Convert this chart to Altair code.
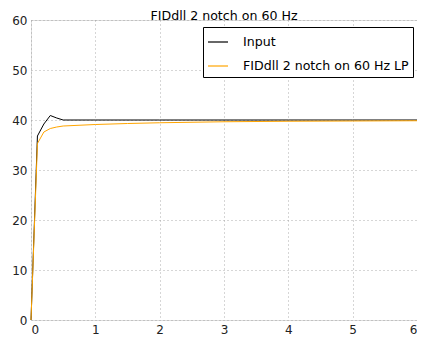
import altair as alt
import pandas as pd

series_names = ["Input", "FIDdll 2 notch on 60 Hz LP"]
x_input = [0.0, 0.1, 0.2, 0.3, 0.4, 0.5, 1.0, 2.0, 3.0, 4.0, 5.0, 6.0, 7.0, 8.0]
y_input = [0.0, 36.8, 39.2, 40.9, 40.4, 40.0, 40.0, 40.0, 40.0, 40.0, 40.0, 40.0, 40.0, 40.0]
x_lp = [0.0, 0.1, 0.2, 0.3, 0.4, 0.5, 1.0, 1.5, 2.0, 3.0, 4.0, 5.0, 6.0, 7.0, 8.0]
y_lp = [0.0, 35.3, 37.6, 38.3, 38.6, 38.8, 39.1, 39.3, 39.45, 39.65, 39.75, 39.8, 39.85, 39.9, 39.9]

rows = []
for i, (xv, yv) in enumerate(zip(x_input, y_input)):
    rows.append({"t": xv, "v": yv, "series": series_names[0], "o": i})
for i, (xv, yv) in enumerate(zip(x_lp, y_lp)):
    rows.append({"t": xv, "v": yv, "series": series_names[1], "o": i})
df = pd.DataFrame(rows)

font = "DejaVu Sans"

chart = alt.Chart(df).mark_line(strokeWidth=1, clip=False).encode(
    x=alt.X("t:Q", scale=alt.Scale(domain=[0, 6], nice=False, zero=False),
            axis=alt.Axis(values=[0, 1, 2, 3, 4, 5, 6], title=None, grid=True,
                          gridDash=[1, 3], gridColor="#999999", gridOpacity=0.8,
                          domain=False, ticks=False, labelPadding=4,
                          labelFont=font, labelFontSize=12, labelColor="#222222")),
    y=alt.Y("v:Q", scale=alt.Scale(domain=[0, 60], nice=False),
            axis=alt.Axis(values=[0, 10, 20, 30, 40, 50, 60], title=None, grid=True,
                          gridDash=[1, 3], gridColor="#999999", gridOpacity=0.8,
                          domain=False, ticks=False, labelPadding=4,
                          labelFont=font, labelFontSize=12, labelColor="#222222")),
    color=alt.Color("series:N",
                    scale=alt.Scale(domain=series_names, range=["#000000", "#FFA500"]),
                    legend=alt.Legend(title=None, orient="none", legendX=172, legendY=7,
                                      symbolType="stroke", symbolSize=400,
                                      symbolStrokeWidth=1.2, labelFont=font,
                                      labelFontSize=12.6, labelColor="#000000",
                                      labelLimit=400, padding=4, rowPadding=6,
                                      labelOffset=14,
                                      strokeColor="#000000", fillColor="#ffffff")),
    order="o:Q",
).properties(
    width=386,
    height=300,
    title=alt.TitleParams("FIDdll 2 notch on 60 Hz", font=font, fontSize=12.6,
                          fontWeight="normal", color="#000000", offset=3,
                          frame="group", anchor="middle", baseline="alphabetic",
                          dy=22),
    autosize=alt.AutoSizeParams(type="none"),
    padding={"left": 23, "top": 12, "right": 0, "bottom": 20},
).configure_view(
    stroke="#000000", strokeWidth=1
).configure(background="#ffffff")

chart.save("out.html", embed_options={"renderer": "svg", "actions": False})
